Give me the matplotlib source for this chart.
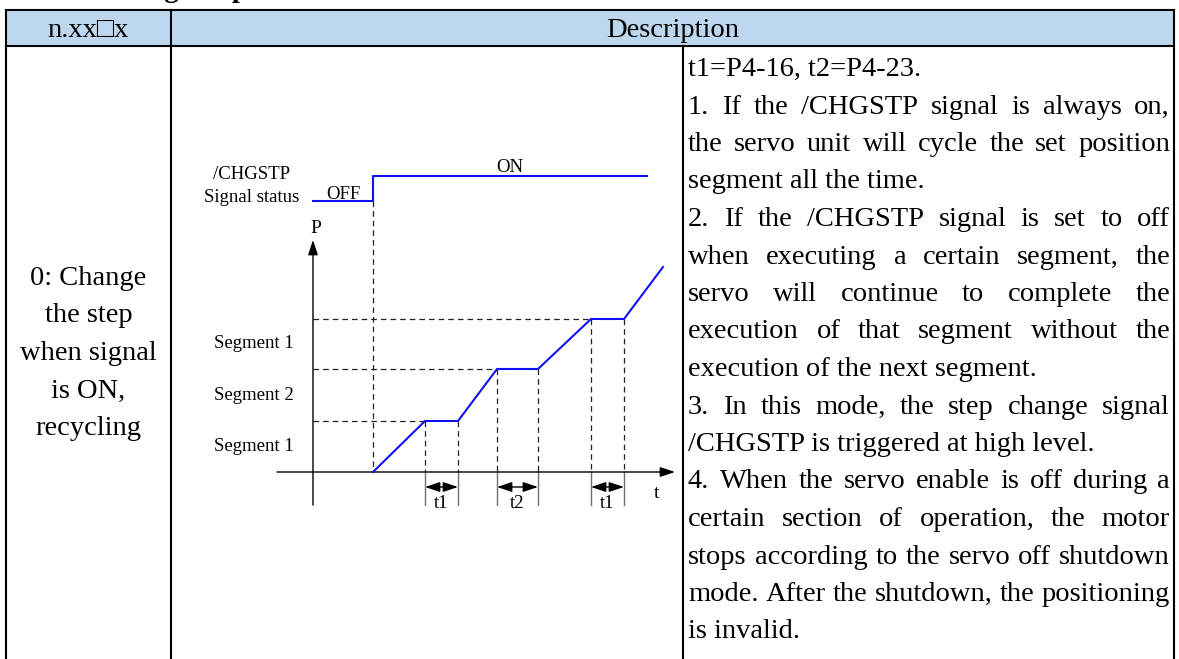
import matplotlib
matplotlib.use('Agg')
import matplotlib.pyplot as plt
from matplotlib.patches import Rectangle

W, H, DPI = 1179, 659, 100
SERIF = ['Liberation Serif', 'DejaVu Serif']

# ---------------- data ----------------
title_fragment = "Change step"
header_left = "n.xx\u25a1x"
header_right = "Description"
mode_lines = ["0: Change", "the step", "when signal", "is ON,", "recycling"]
desc_lines = [
    "t1=P4-16, t2=P4-23.",
    "1. If the /CHGSTP signal is always on,",
    "the servo unit will cycle the set position",
    "segment all the time.",
    "2. If the /CHGSTP signal is set to off",
    "when executing a certain segment, the",
    "servo will continue to complete the",
    "execution of that segment without the",
    "execution of the next segment.",
    "3. In this mode, the step change signal",
    "/CHGSTP is triggered at high level.",
    "4. When the servo enable is off during a",
    "certain section of operation, the motor",
    "stops according to the servo off shutdown",
    "mode. After the shutdown, the positioning",
    "is invalid.",
]
desc_justify = [False, True, True, False, True, True, True, True, False,
                True, False, True, True, True, True, False]

# timing diagram (diagram units)
signal_names = ["/CHGSTP", "Signal status"]
signal_t = [0.0, 6.0, 6.0, 33.4]
signal_level = [27.1, 27.1, 29.6, 29.6]
signal_states = ["OFF", "ON"]
pos_t = [6.0, 11.2, 14.5, 18.4, 22.5, 27.8, 31.1, 35.0]
pos_p = [0.0, 5.1, 5.1, 10.3, 10.3, 15.3, 15.3, 20.5]
segment_names = ["Segment 1", "Segment 2", "Segment 1"]
dwell_names = ["t1", "t2", "t1"]
axis_names = ["P", "t"]

# ---------------- figure ----------------
fig = plt.figure(figsize=(W / DPI, H / DPI), dpi=DPI)
fig.patch.set_facecolor('white')
ax = fig.add_axes([0, 0, 1, 1])
ax.set_xlim(0, W)
ax.set_ylim(H, 0)
ax.axis('off')

X0, X1, X2, X3 = 6, 171, 683, 1174
Y0, Y1, YB = 10, 46, 680
LW = 1.5

ax.add_patch(Rectangle((X0, Y0), X3 - X0, Y1 - Y0, facecolor='#BDD7EE',
                       edgecolor='none', zorder=0))
for y in (Y0, Y1):
    ax.plot([X0, X3], [y, y], color='black', lw=LW, solid_capstyle='projecting')
for x in (X0, X1, X3):
    ax.plot([x, x], [Y0, YB], color='black', lw=LW, solid_capstyle='projecting')
ax.plot([X2, X2], [Y1, YB], color='black', lw=LW)

FS = 20.5
ax.text(98, -2.8, title_fragment, ha='left', va='baseline', fontsize=FS,
        fontweight='bold', family=SERIF)
ax.text((X0 + X1) / 2, 37, header_left, ha='center', va='baseline',
        fontsize=FS, family=SERIF)
ax.text((X1 + X3) / 2, 37, header_right, ha='center', va='baseline',
        fontsize=FS, family=SERIF)

# left column
LSP = 37.5
for i, s in enumerate(mode_lines):
    ax.text((X0 + X1) / 2, 285 + i * LSP, s, ha='center', va='baseline',
            fontsize=FS, family=SERIF)

# description column (justified)
renderer = fig.canvas.get_renderer()
TL, TR = 688, 1170


def width_of(s):
    t = ax.text(0, 0, s, fontsize=FS, family=SERIF)
    w = t.get_window_extent(renderer).width
    t.remove()
    return w


for i, (s, just) in enumerate(zip(desc_lines, desc_justify)):
    yb = 76 + i * LSP
    if not just:
        ax.text(TL, yb, s, ha='left', va='baseline', fontsize=FS, family=SERIF)
        continue
    words = s.split(' ')
    ws = [width_of(w) for w in words]
    gap = (TR - TL - sum(ws)) / (len(words) - 1)
    x = TL
    for w, wd in zip(words, ws):
        ax.text(x, yb, w, ha='left', va='baseline', fontsize=FS, family=SERIF)
        x += wd + gap

# ---------------- timing diagram ----------------
PX_L, PX_R, PX_T, PX_B = 180, 680, 150, 510
OX, OY, SC = 313, 472, 10.0
dax = fig.add_axes([PX_L / W, (H - PX_B) / H, (PX_R - PX_L) / W, (PX_B - PX_T) / H])
dax.set_xlim((PX_L - OX) / SC, (PX_R - OX) / SC)
dax.set_ylim((OY - PX_B) / SC, (OY - PX_T) / SC)
dax.axis('off')

BLUE = '#1010F8'
DASH = dict(color='#222222', lw=0.9, dashes=(4.5, 3.2))
DFS = 13.5
ARROW = '-|>,head_length=0.75,head_width=0.25'

# axes arrows
dax.annotate('', xy=(36.2, 0), xytext=(-3.6, 0),
             arrowprops=dict(arrowstyle=ARROW, color='black', lw=1.0,
                             mutation_scale=12, shrinkA=0, shrinkB=0))
dax.annotate('', xy=(0, 23.2), xytext=(0, -3.3),
             arrowprops=dict(arrowstyle=ARROW, color='black', lw=1.0,
                             mutation_scale=12, shrinkA=0, shrinkB=0))
dax.text(0.3, 24.4, axis_names[0], ha='center', va='center', fontsize=DFS + 0.5,
         family=SERIF)
dax.text(34.4, -2.2, axis_names[1], ha='center', va='center', fontsize=DFS + 0.5,
         family=SERIF)

# signal
dax.plot(signal_t, signal_level, color=BLUE, lw=1.5, zorder=5)
dax.text(-6.1, 29.27, signal_names[0], ha='center', va='baseline',
         fontsize=DFS, family=SERIF)
dax.text(-6.1, 26.97, signal_names[1], ha='center', va='baseline',
         fontsize=DFS, family=SERIF)
dax.text((signal_t[0] + signal_t[1]) / 2, signal_level[0] + 0.25,
         signal_states[0], ha='center', va='baseline', fontsize=DFS,
         family=SERIF)
dax.text((signal_t[2] + signal_t[3]) / 2, signal_level[2] + 0.4,
         signal_states[1], ha='center', va='baseline', fontsize=DFS,
         family=SERIF)
dax.plot([signal_t[1], signal_t[1]], [signal_level[0], 0], **DASH)

# position profile
dax.plot(pos_t, pos_p, color=BLUE, lw=1.5, zorder=5, solid_joinstyle='miter')
levels = [pos_p[0]]
for k, i in enumerate((1, 3, 5)):
    x1, x2, lvl = pos_t[i], pos_t[i + 1], pos_p[i]
    levels.append(lvl)
    dax.plot([0, x1], [lvl, lvl], **DASH)
    for xx in (x1, x2):
        dax.plot([xx, xx], [lvl, 0], **DASH)
        dax.plot([xx, xx], [0, -3.3], color='#707070', lw=1.0)
    dax.annotate('', xy=(x2, -1.5), xytext=(x1, -1.5),
                 arrowprops=dict(arrowstyle='<|-|>,head_length=0.75,head_width=0.25',
                                 color='black', lw=1.0, mutation_scale=12,
                                 shrinkA=0, shrinkB=0))
    dax.text((x1 + x2) / 2, -3.2, dwell_names[k], ha='center', va='center',
             fontsize=DFS, family=SERIF)

for k, name in enumerate(segment_names):
    dax.text(-5.9, (levels[k] + levels[k + 1]) / 2, name, ha='center',
             va='center', fontsize=DFS, family=SERIF)

fig.savefig('out.png', dpi=DPI, facecolor='white')
